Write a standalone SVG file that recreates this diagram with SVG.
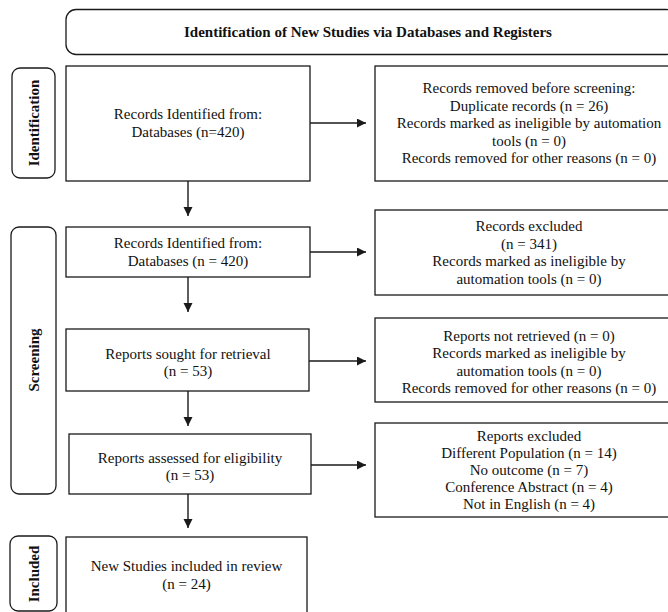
<svg xmlns="http://www.w3.org/2000/svg" width="668" height="612" viewBox="0 0 668 612">
<defs>
<style>
.box{fill:#fff;stroke:#1a1a1a;stroke-width:1.3}
.t{font-family:"Liberation Serif","Times New Roman",serif;font-size:15px;fill:#111;text-anchor:middle}
.b{font-weight:bold}
.c{fill:none;stroke:#1a1a1a;stroke-width:1.4}
</style>
<marker id="ah" markerUnits="userSpaceOnUse" markerWidth="10" markerHeight="10" refX="9" refY="4.5" orient="auto">
<path d="M0,0 L9,4.5 L0,9 z" fill="#1a1a1a"/>
</marker>
</defs>
<rect width="668" height="612" fill="#fff"/>

<g id="title">
<rect class="box" x="66" y="9.5" width="610" height="45" rx="10"/>
<text class="t b" x="368" y="37">Identification of New Studies via Databases and Registers</text>
</g>

<g id="lbl-identification">
<rect class="box" x="12" y="68" width="43" height="110" rx="8"/>
<text class="t b" transform="translate(39,123) rotate(-90)">Identification</text>
</g>
<g id="lbl-screening">
<rect class="box" x="11" y="227" width="45" height="267" rx="8"/>
<text class="t b" transform="translate(39,360) rotate(-90)">Screening</text>
</g>
<g id="lbl-included">
<rect class="box" x="10" y="536" width="47" height="75" rx="8"/>
<text class="t b" transform="translate(39,574) rotate(-90)">Included</text>
</g>

<g id="n1">
<rect class="box" x="66" y="66" width="244" height="115"/>
<text class="t" x="188" y="119">Records Identified from:</text>
<text class="t" x="188" y="136.5">Databases (n=420)</text>
</g>
<g id="r1">
<rect class="box" x="375" y="66" width="308" height="115"/>
<text class="t" x="529" y="93">Records removed before screening:</text>
<text class="t" x="529" y="110.5">Duplicate records (n = 26)</text>
<text class="t" x="529" y="128">Records marked as ineligible by automation</text>
<text class="t" x="529" y="145.5">tools (n = 0)</text>
<text class="t" x="529" y="163">Records removed for other reasons (n = 0)</text>
</g>

<g id="n2">
<rect class="box" x="66" y="227" width="244" height="50"/>
<text class="t" x="188" y="248">Records Identified from:</text>
<text class="t" x="188" y="265.5">Databases (n = 420)</text>
</g>
<g id="r2">
<rect class="box" x="375" y="210" width="308" height="85"/>
<text class="t" x="529" y="231">Records excluded</text>
<text class="t" x="529" y="248.5">(n = 341)</text>
<text class="t" x="529" y="266">Records marked as ineligible by</text>
<text class="t" x="529" y="283.5">automation tools (n = 0)</text>
</g>

<g id="n3">
<rect class="box" x="66" y="329" width="243" height="62"/>
<text class="t" x="188" y="358.5">Reports sought for retrieval</text>
<text class="t" x="188" y="376">(n = 53)</text>
</g>
<g id="r3">
<rect class="box" x="375" y="318" width="308" height="84"/>
<text class="t" x="529" y="340.5">Reports not retrieved (n = 0)</text>
<text class="t" x="529" y="358">Records marked as ineligible by</text>
<text class="t" x="529" y="375.5">automation tools (n = 0)</text>
<text class="t" x="529" y="393">Records removed for other reasons (n = 0)</text>
</g>

<g id="n4">
<rect class="box" x="69" y="434" width="242" height="60"/>
<text class="t" x="190" y="462.5">Reports assessed for eligibility</text>
<text class="t" x="190" y="480">(n = 53)</text>
</g>
<g id="r4">
<rect class="box" x="375" y="423" width="308" height="94"/>
<text class="t" x="529" y="441">Reports excluded</text>
<text class="t" x="529" y="458">Different Population (n = 14)</text>
<text class="t" x="529" y="475">No outcome (n = 7)</text>
<text class="t" x="529" y="492">Conference Abstract (n = 4)</text>
<text class="t" x="529" y="509">Not in English (n = 4)</text>
</g>

<g id="n5">
<rect class="box" x="66" y="537" width="241" height="80"/>
<text class="t" x="186.5" y="571">New Studies included in review</text>
<text class="t" x="186.5" y="588.5">(n = 24)</text>
</g>

<g id="connectors">
<line class="c" x1="310" y1="123" x2="366" y2="123" marker-end="url(#ah)"/>
<line class="c" x1="310" y1="252" x2="366" y2="252" marker-end="url(#ah)"/>
<line class="c" x1="309" y1="361" x2="366" y2="361" marker-end="url(#ah)"/>
<line class="c" x1="311" y1="465" x2="366" y2="465" marker-end="url(#ah)"/>
<line class="c" x1="188" y1="181" x2="188" y2="216" marker-end="url(#ah)"/>
<line class="c" x1="188" y1="277" x2="188" y2="312" marker-end="url(#ah)"/>
<line class="c" x1="188" y1="391" x2="188" y2="426" marker-end="url(#ah)"/>
<line class="c" x1="188" y1="494" x2="188" y2="528" marker-end="url(#ah)"/>
</g>
</svg>
